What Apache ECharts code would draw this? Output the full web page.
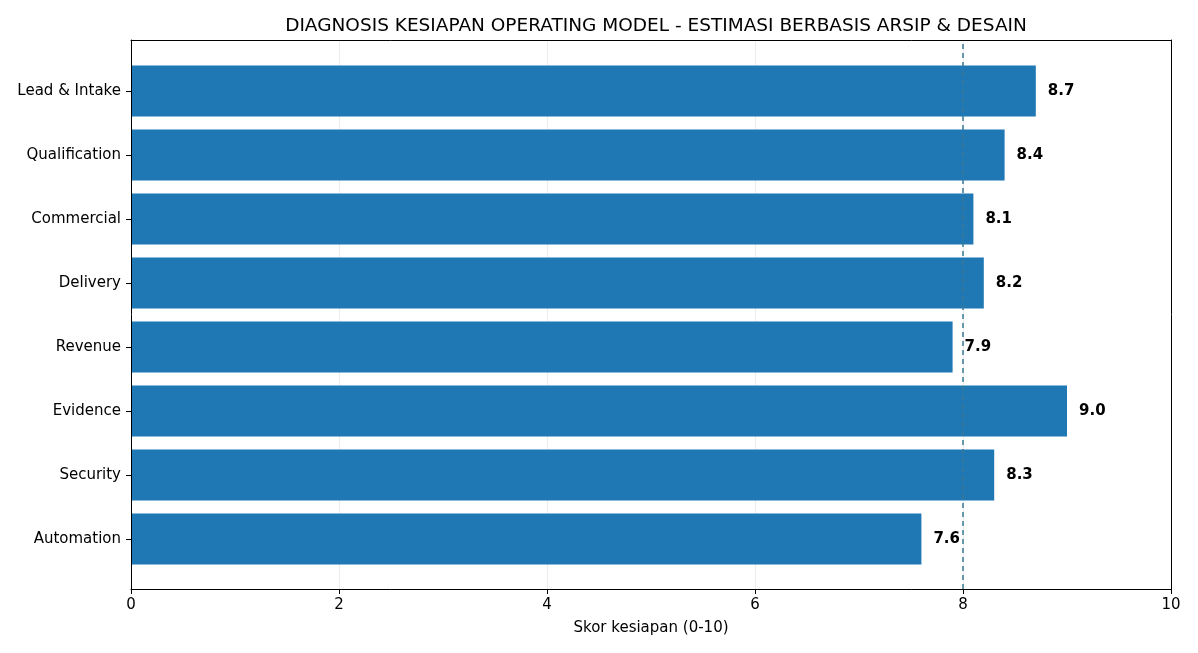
<!DOCTYPE html>
<html>
<head>
<meta charset="utf-8">
<script src="https://cdn.jsdelivr.net/npm/echarts@6/dist/echarts.min.js"></script>
<style>
  html, body { margin: 0; padding: 0; background: #fff; }
  #chart { width: 1198px; height: 653px; }
</style>
</head>
<body>
<div id="chart"></div>
<script>
  // data
  var categories = ['Lead & Intake', 'Qualification', 'Commercial', 'Delivery', 'Revenue', 'Evidence', 'Security', 'Automation'];
  var scores = [8.7, 8.4, 8.1, 8.2, 7.9, 9.0, 8.3, 7.6];
  var targetScore = 8;
  var xTicks = [0, 2, 4, 6, 8, 10];

  var font = 'DejaVu Sans';
  var myChart = echarts.init(document.getElementById('chart'));

  // frame line (matplotlib spines)
  var spine = { show: true, onZero: false, lineStyle: { color: '#000', width: 1 } };
  var off = { show: false };

  var option = {
   animation: false,
   title: {
    text: 'DIAGNOSIS KESIAPAN OPERATING MODEL - ESTIMASI BERBASIS ARSIP & DESAIN',
    left: 651, top: 12, textAlign: 'center',
    textStyle: { fontFamily: font, fontSize: 18.5, fontWeight: 'normal', color: '#000' }
   },
   grid: [
    // bars (inset like matplotlib margins)
    { left: 131, right: 27, top: 59, bottom: 82 },
    // frame + x axis
    { left: 131, right: 27, top: 40, bottom: 64 }
   ],
   xAxis: [
    { gridIndex: 0, type: 'value', min: 0, max: 10, show: false },
    // bottom axis, on top of bars
    { gridIndex: 1, type: 'value', min: 0, max: 10, interval: 2, position: 'bottom', z: 10,
     name: 'Skor kesiapan (0-10)', nameLocation: 'middle', nameGap: 32,
     nameTextStyle: { fontFamily: font, fontSize: 15, color: '#000' },
     axisLine: spine,
     axisTick: { show: true, length: 5, inside: false, lineStyle: { color: '#000' } },
     axisLabel: { fontFamily: font, fontSize: 15, color: '#000', margin: 9,
      formatter: function (v) { return xTicks.indexOf(v) >= 0 ? String(v) : ''; } },
     splitLine: off
    },
    // top spine
    { gridIndex: 1, type: 'value', min: 0, max: 10, position: 'top', z: 10,
     axisLine: spine, axisTick: off, axisLabel: off, splitLine: off },
    // grid lines, behind bars
    { gridIndex: 1, type: 'value', min: 0, max: 10, interval: 2, position: 'bottom', z: 0,
     axisLine: off, axisTick: off, axisLabel: off,
     splitLine: { show: true, lineStyle: { color: '#ececec', width: 1 } } }
   ],
   yAxis: [
    { gridIndex: 0, type: 'category', data: categories, inverse: true,
     axisLine: off,
     axisTick: { show: true, alignWithLabel: true, length: 5, lineStyle: { color: '#000' } },
     axisLabel: { fontFamily: font, fontSize: 15, color: '#000', margin: 10 },
     splitLine: off
    },
    { gridIndex: 1, type: 'value', min: 0, max: 1, position: 'left', z: 10,
     axisLine: spine, axisTick: off, axisLabel: off, splitLine: off },
    { gridIndex: 1, type: 'value', min: 0, max: 1, position: 'right', z: 10,
     axisLine: spine, axisTick: off, axisLabel: off, splitLine: off }
   ],
   series: [
    {
     type: 'bar', xAxisIndex: 0, yAxisIndex: 0,
     data: scores, barWidth: '80%', z: 3,
     itemStyle: { color: '#1f77b4' },
     label: {
      show: true, position: 'right', distance: 12,
      fontFamily: font, fontSize: 15, fontWeight: 'bold', color: '#000',
      formatter: function (p) { return p.value.toFixed(1); }
     }
    },
    {
     // target line across the whole frame
     type: 'line', xAxisIndex: 1, yAxisIndex: 1, data: [], z: 5,
     markLine: {
      silent: true, symbol: 'none', label: { show: false },
      lineStyle: { color: '#3a7a96', type: [5, 4], width: 1.5 },
      data: [{ xAxis: targetScore }]
     }
    }
   ]
  };
  myChart.setOption(option);
</script>
</body>
</html>
